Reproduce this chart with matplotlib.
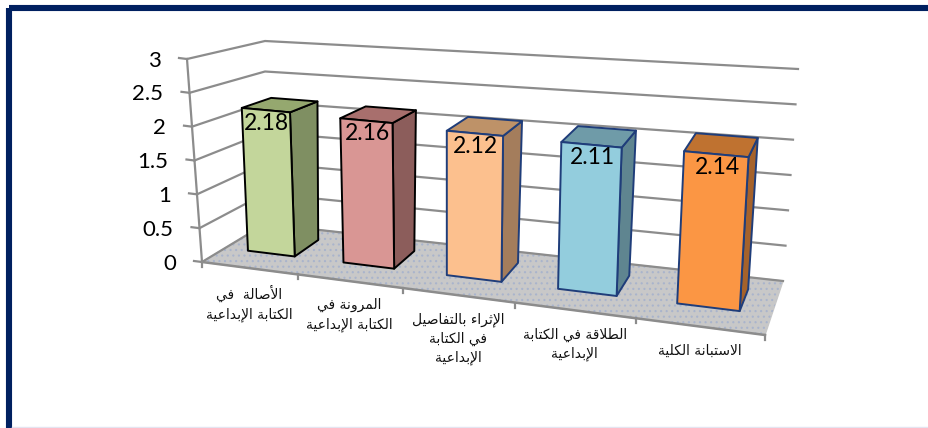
import unicodedata
import matplotlib
matplotlib.use('Agg')
import matplotlib.pyplot as plt
from matplotlib.patches import Polygon, Rectangle

# values
categories = ['الأصالة  في\nالكتابة الإبداعية',
              'المرونة في\nالكتابة الإبداعية',
              'الإثراء بالتفاصيل\nفي الكتابة\nالإبداعية',
              'الطلاقة في الكتابة\nالإبداعية',
              'الاستبانة الكلية']
values = [2.18, 2.16, 2.12, 2.11, 2.14]
y_ticks = [0, 0.5, 1, 1.5, 2, 2.5, 3]
y_tick_labels = ['0', '0.5', '1', '1.5', '2', '2.5', '3']

front_colors = ['#C3D69B', '#D99694', '#FCC08E', '#93CDDD', '#FB9644']
side_colors = ['#7F8F62', '#8C5D5B', '#A47D5C', '#5F8590', '#A5622B']
top_colors = ['#95A86F', '#A86F6D', '#BE9268', '#6F9BA8', '#BF7230']
edge_colors = ['black', 'black', '#1F3D7A', '#1F3D7A', '#1F3D7A']

# corners of the 3d box in pixels: (x position, depth, height)
BOX = {(0, 0, 0): (202, 262), (1, 0, 0): (765, 335),
       (0, 1, 0): (265, 224), (1, 1, 0): (783, 281),
       (0, 0, 1): (187, 59), (1, 0, 1): (778, 115),
       (0, 1, 1): (265, 41), (1, 1, 1): (798, 69)}
NONJOIN = 'اأإدذرزوةء'


def project(u, d, val):
    # fake perspective, wider towards the right
    u = u - 0.18 * u * (1 - u)
    v = val / 3
    x = y = 0
    for (a, b, c), (px, py) in BOX.items():
        w = (u if a else 1 - u) * (d if b else 1 - d) * (v if c else 1 - v)
        x += w * px
        y += w * py
    return x, y


def form(name, kind):
    return unicodedata.lookup(name + ' ' + kind + ' FORM')


def shape_line(text):
    # matplotlib does no arabic shaping, so pick the forms by hand
    out = []
    i = 0
    while i < len(text):
        c = text[i]
        if c == ' ':
            out.append(c)
            i += 1
            continue
        prev = text[i - 1] if i > 0 else ' '
        joins_prev = prev != ' ' and prev not in NONJOIN
        if c == 'ل' and i + 1 < len(text) and text[i + 1] in 'اأإ':
            tail = unicodedata.name(text[i + 1]).replace('ARABIC LETTER ', '')
            name = 'ARABIC LIGATURE LAM WITH ' + tail
            out.append(form(name, 'FINAL' if joins_prev else 'ISOLATED'))
            i += 2
            continue
        nxt = text[i + 1] if i + 1 < len(text) else ' '
        joins_next = nxt != ' ' and c not in NONJOIN
        if c == 'ء':
            joins_prev = False
        kind = {(0, 0): 'ISOLATED', (1, 0): 'FINAL', (0, 1): 'INITIAL', (1, 1): 'MEDIAL'}[(int(joins_prev), int(joins_next))]
        out.append(form(unicodedata.name(c), kind))
        i += 1
    return ''.join(out)[::-1]


def shape(text):
    return '\n'.join(shape_line(line) for line in text.split('\n'))


plt.rcParams['font.family'] = ['Lato', 'DejaVu Sans']
plt.rcParams['hatch.linewidth'] = 0.8
fig = plt.figure(figsize=(9.29, 4.28), dpi=100)
ax = fig.add_axes([0, 0, 1, 1])
ax.set_xlim(0, 929)
ax.set_ylim(428, 0)
ax.axis('off')

# frame of the slide
ax.add_patch(Rectangle((9.5, 8.3), 930, 430, fill=False, edgecolor='#002060', linewidth=4.4, zorder=1))
ax.plot([12, 929], [427.3, 427.3], color='#E4E4F0', lw=1, zorder=1)

# floor
floor = [project(0, 0, 0), project(1, 0, 0), project(1, 1, 0), project(0, 1, 0)]
ax.add_patch(Polygon(floor, facecolor='#C8C8C8', edgecolor='#C8C8C8', zorder=2))
ax.add_patch(Polygon(floor, fill=False, hatch='...', edgecolor='#A9B4CC', linewidth=0, zorder=2))

grid = '#8C8C8C'
for i, t in enumerate(y_ticks):
    left = project(0, 0, t)
    back_l = project(0, 1, t)
    back_r = project(1, 1, t)
    ax.plot([left[0], back_l[0], back_r[0]], [left[1], back_l[1], back_r[1]], color=grid, lw=1.6, zorder=3)
    ax.plot([left[0] - 8, left[0]], [left[1] - 1, left[1]], color=grid, lw=1.6, zorder=3)
    ax.text(left[0] - 26, left[1] + 1.5, y_tick_labels[i], ha='right', va='center', fontsize=16, color='black', zorder=6)

# axis lines + front edge with ticks
a = project(0, 0, 0)
b = project(0, 0, 3)
ax.plot([a[0], b[0]], [a[1], b[1]], color=grid, lw=1.6, zorder=3)
a = project(0, 0, 0)
b = project(1, 0, 0)
ax.plot([a[0], b[0]], [a[1], b[1]], color=grid, lw=1.8, zorder=3)
for i in range(6):
    p = project(i / 5, 0, 0)
    ax.plot([p[0], p[0]], [p[1], p[1] + 5], color=grid, lw=1.6, zorder=3)

# bars
half = 0.05
d0, d1 = 0.37, 0.78
for i, val in enumerate(values):
    c = (i + 0.5) / 5
    l, r = c - half, c + half
    front = [project(l, d0, 0), project(r, d0, 0), project(r, d0, val), project(l, d0, val)]
    side = [project(r, d0, 0), project(r, d1, 0), project(r, d1, val), project(r, d0, val)]
    top = [project(l, d0, val), project(r, d0, val), project(r, d1, val), project(l, d1, val)]
    ax.add_patch(Polygon(side, facecolor=side_colors[i], edgecolor=edge_colors[i], lw=1.4, joinstyle='round', zorder=4))
    ax.add_patch(Polygon(top, facecolor=top_colors[i], edgecolor=edge_colors[i], lw=1.4, joinstyle='round', zorder=4))
    ax.add_patch(Polygon(front, facecolor=front_colors[i], edgecolor=edge_colors[i], lw=1.4, joinstyle='round', zorder=5))
    tx, ty = project(c, d0, val)
    ax.text(tx + 1, ty + 13, f'{val:.2f}', ha='center', va='center', fontsize=16.5, color='black', zorder=6)

    # category label under the front edge
    lx, ly = project(c, 0, 0)
    ax.text(lx, ly + 17, shape(categories[i]), ha='center', va='top', fontsize=10,
            family=['DejaVu Sans'], linespacing=1.45, color='#111111', zorder=6)

fig.savefig('out.png', dpi=100)
